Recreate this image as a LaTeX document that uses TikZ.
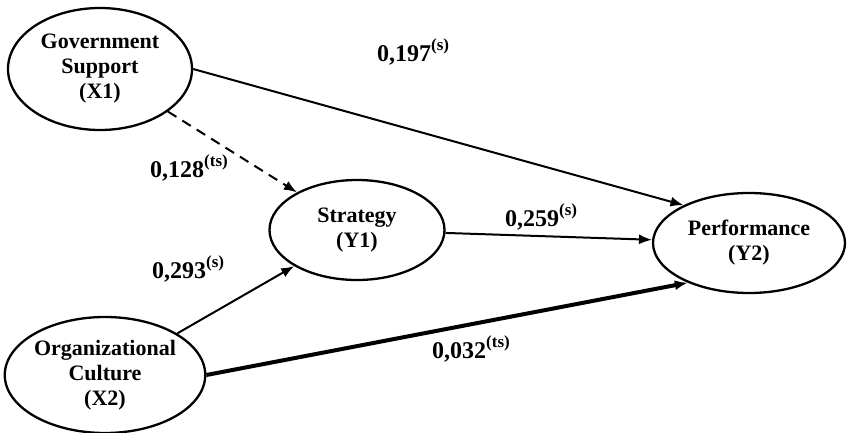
\documentclass[tikz,border=0pt]{standalone}
\usepackage{fontspec}
\setmainfont{Liberation Serif}
\usetikzlibrary{shapes.geometric,arrows.meta,positioning}
\tikzset{
  construct/.style={ellipse,draw,line width=2.3pt,inner sep=0pt,align=center,
    font=\fontsize{22}{25}\selectfont\bfseries},
  coef/.style={anchor=base west,inner sep=0pt,font=\fontsize{24}{27}\selectfont\bfseries},
  every edge/.style={draw,->,>={Latex[length=13pt,width=10pt]},line width=2pt},
}
\newcommand{\est}[2]{#1\raisebox{11pt}{\fontsize{17}{19}\selectfont(#2)}}

\begin{document}
\begin{tikzpicture}[x=1pt,y=-1pt]
\useasboundingbox (0,0) rectangle (847,433);

\node[construct,minimum width=184pt,minimum height=122pt] (x1) at (100,69) {Government\\Support\\(X1)};
\node[construct,minimum width=196pt,minimum height=116pt] (x2) at (105,375) {Organizational\\Culture\\(X2)};
\node[construct,minimum width=175pt,minimum height=100pt] (y1) at (357,230) {Strategy\\(Y1)};
\node[construct,minimum width=192pt,minimum height=100pt] (y2) at (749,243) {Performance\\(Y2)};

\path
(x1.east) edge (y2.150)
(x1) edge[dash pattern=on 10pt off 7pt] (y1)
(y1) edge (y2)
(x2) edge (y1)
(x2.east) edge[line width=4pt] (y2.213);

\node[coef] (c1) at (377,62) {\est{0,197}{s}};
\node[coef] (c2) at (150,178) {\est{0,128}{ts}};
\node[coef] (c3) at (505,227) {\est{0,259}{s}};
\node[coef] (c4) at (152,278) {\est{0,293}{s}};
\node[coef] (c5) at (432,358) {\est{0,032}{ts}};

\end{tikzpicture}
\end{document}
